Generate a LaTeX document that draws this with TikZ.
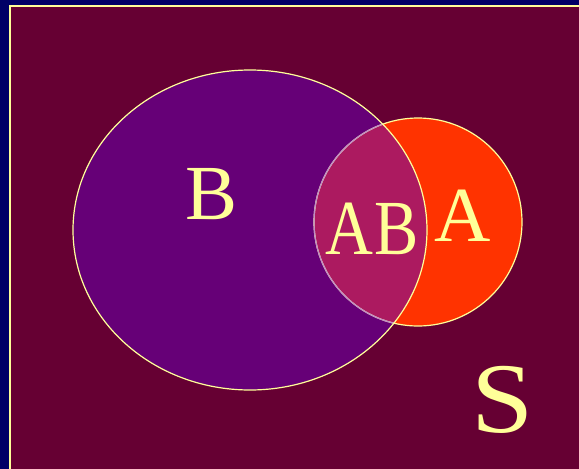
\documentclass[tikz,border=0pt]{standalone}
\usepackage{fontspec}
\setmainfont{Liberation Serif}
\definecolor{navyback}{HTML}{000066}
\definecolor{slideback}{HTML}{660033}
\definecolor{setB}{HTML}{660077}
\definecolor{setA}{HTML}{FF3300}
\definecolor{setAB}{HTML}{AC1A60}
\definecolor{chalk}{HTML}{FFFF99}
\definecolor{paleedge}{HTML}{C08CC8}
\begin{document}
\begin{tikzpicture}[
        x=1pt, y=-1pt,
        setlabel/.style={
            text=chalk,
            inner sep=0pt,
            font=\fontsize{78}{80}\selectfont
        },
        outline/.style={
            draw=chalk,
            line width=1.2pt
        }
    ]

        % Background and frame
        \useasboundingbox (0,0) rectangle (579,469);
        \fill[navyback] (0,0) rectangle (579,469);
        \begin{scope}
            \clip (0,0) rectangle (579,469);
            \fill[slideback, draw=chalk, line width=2.4pt] (10,6) rectangle (600,490);
        \end{scope}

        % Sets A and B
        \fill[setA] (418,222) circle (104);
        \fill[setB] (250,230) ellipse (177 and 160);

        % Intersection AB
        \begin{scope}
            \clip (250,230) ellipse (177 and 160);
            \fill[setAB] (418,222) circle (104);
        \end{scope}

        \draw[outline] (418,222) circle (104);
        \begin{scope}
            \clip (250,230) ellipse (177 and 160);
            \draw[paleedge, line width=1.2pt] (418,222) circle (104);
        \end{scope}
        \draw[outline] (250,230) ellipse (177 and 160);

        % Labels
        \node[setlabel] (lblB) at (212,194) {B};
        \node[setlabel, xscale=0.85] (lblAB) at (372,229) {A\kern2pt B};
        \node[setlabel] (lblA) at (463,216) {A};
        \node[setlabel, xscale=1.12, font=\fontsize{100}{102}\selectfont] (lblS) at (503,400) {S};

    \end{tikzpicture}
\end{document}
